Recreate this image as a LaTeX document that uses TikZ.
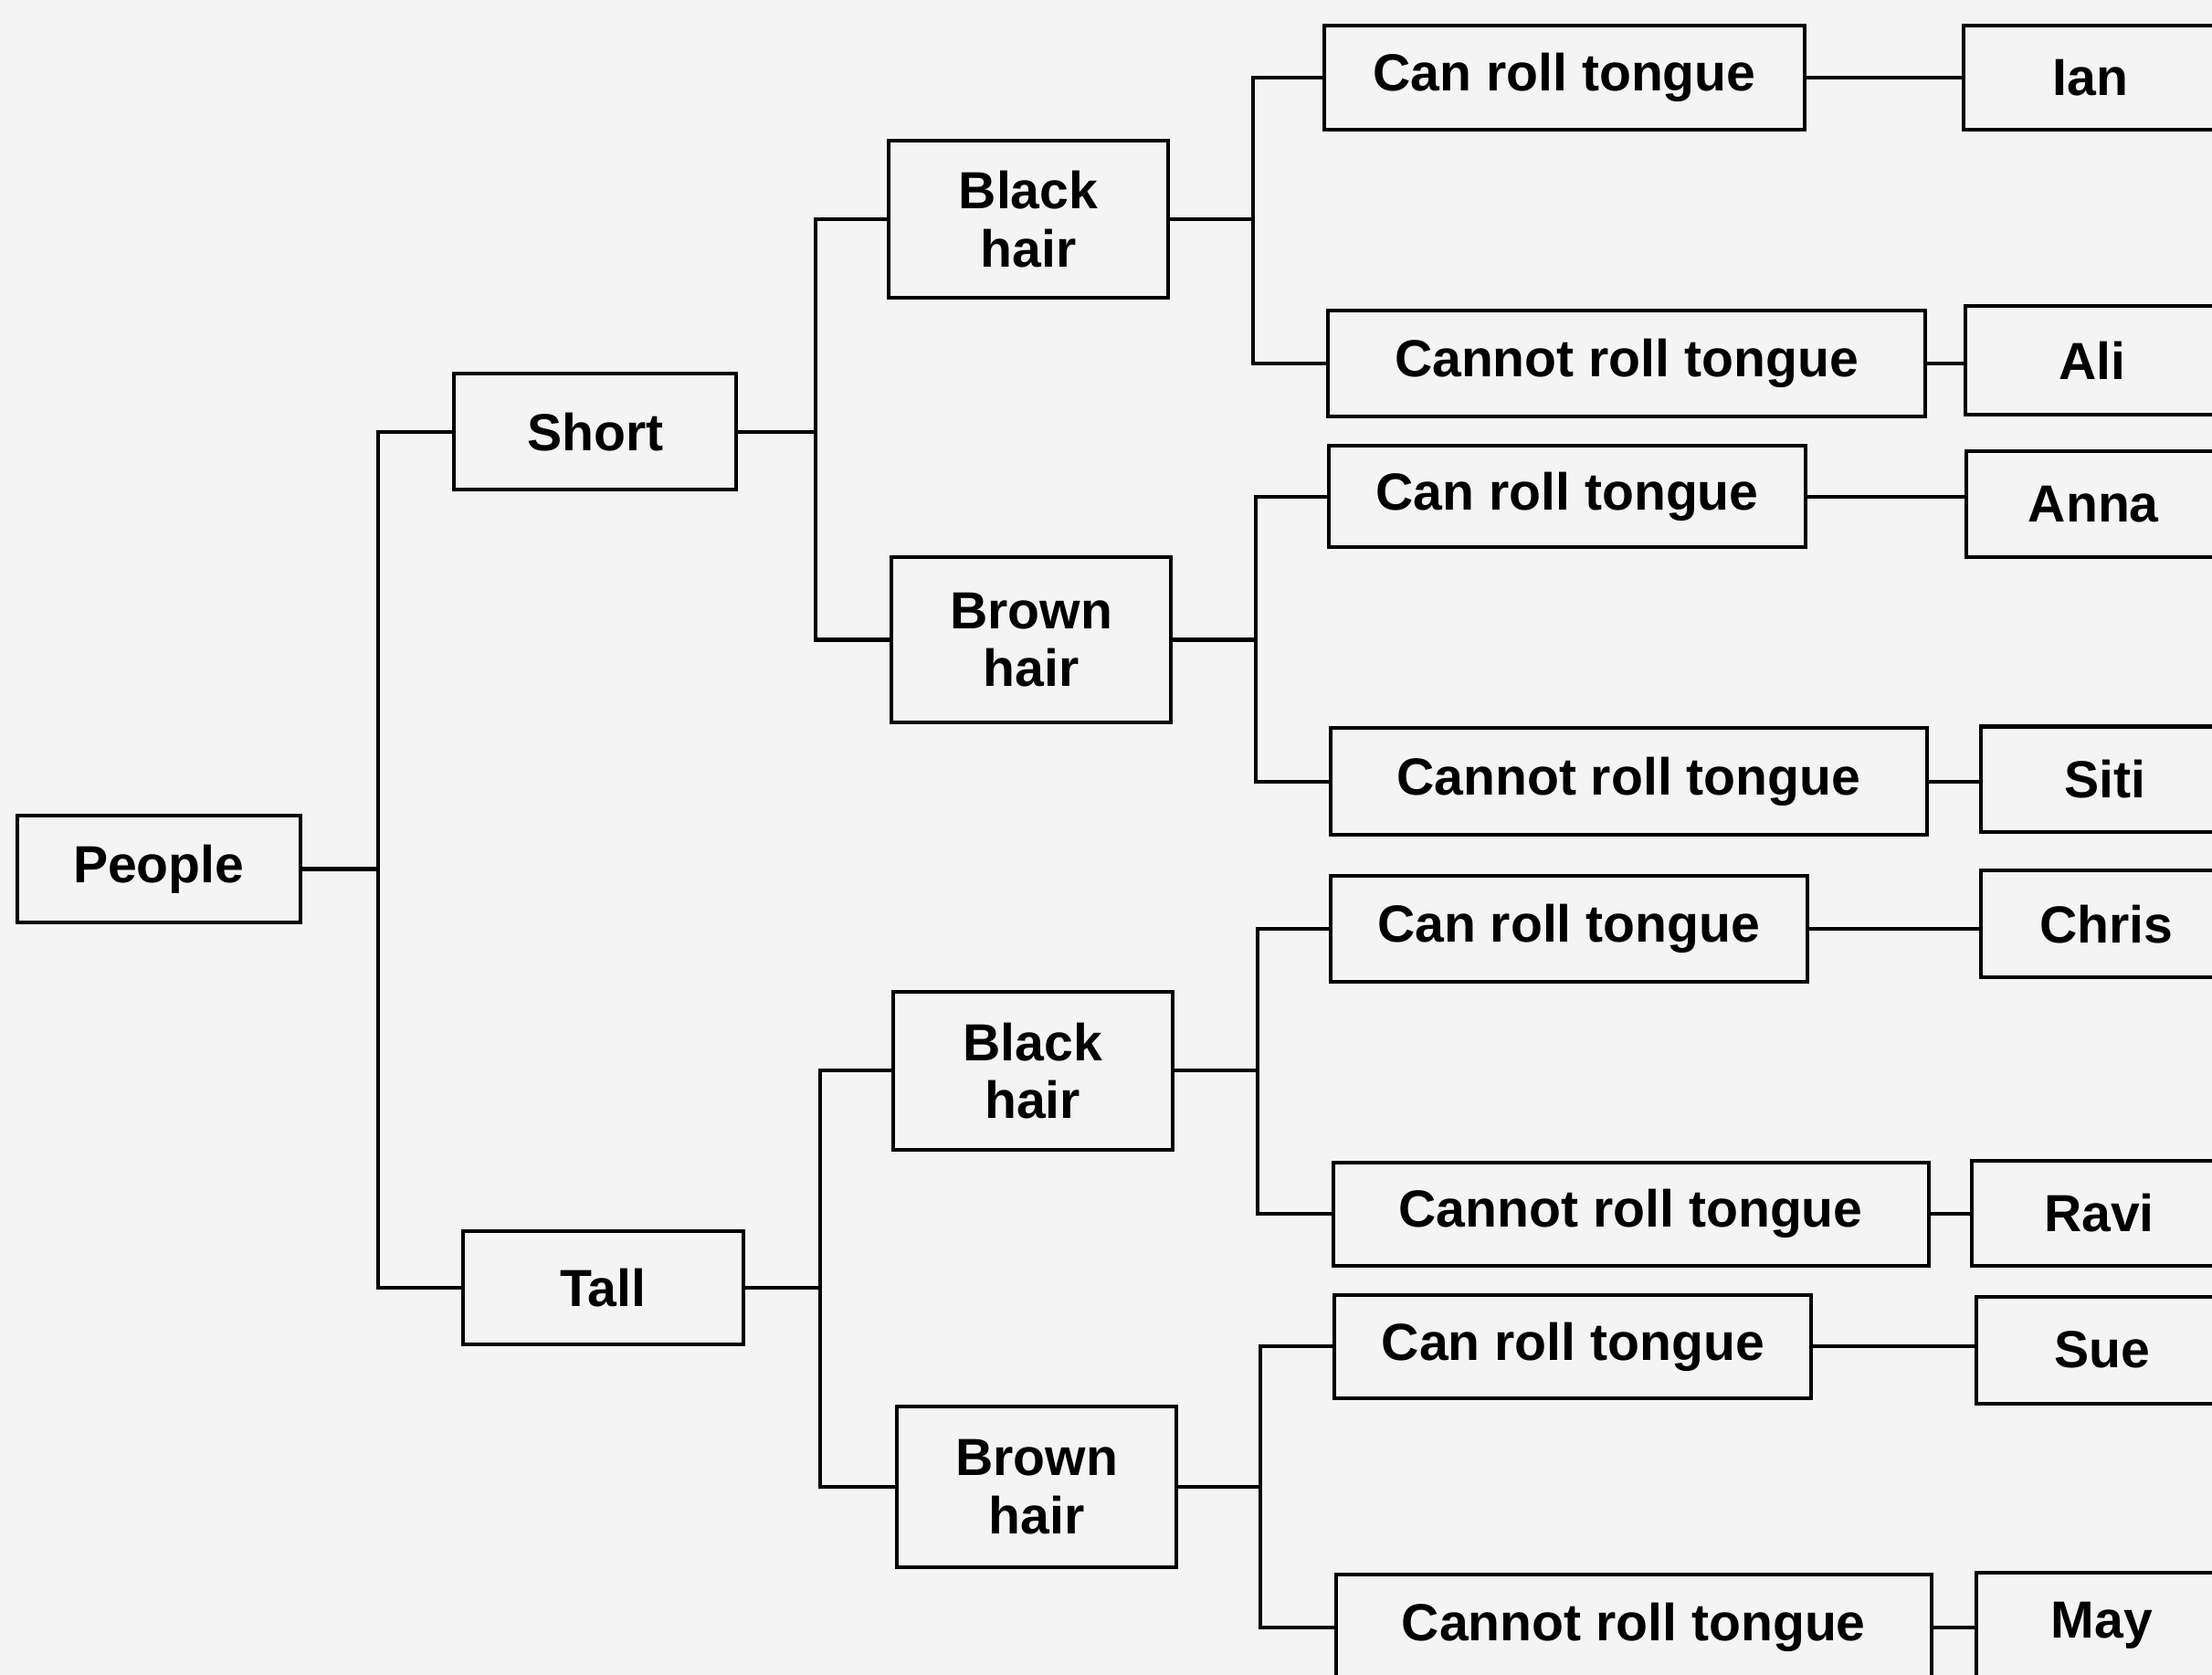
\documentclass[tikz,border=0pt]{standalone}
\usepackage{fontspec}
\setmainfont{Liberation Sans}
\definecolor{bg}{HTML}{F4F4F4}
\tikzset{
  box/.style={draw=black, line width=2.6pt, rectangle, inner sep=0pt, align=center,
    font=\fontsize{37}{41}\selectfont\bfseries},
  link/.style={draw=black, line width=2.6pt}
}
\begin{document}
\begin{tikzpicture}[x=1pt,y=-1pt]
\fill[bg] (0,0) rectangle (1568,1187.3);
\clip (0,0) rectangle (1568,1187.3);
% level 0/1
\node[box, minimum width=201pt, minimum height=76pt] (people) at (112.5,616) {People};
\node[box, minimum width=200pt, minimum height=82pt] (short) at (422,306) {Short};
\node[box, minimum width=199pt, minimum height=80pt] (tall) at (427.5,913) {Tall};
% level 2
\node[box, minimum width=198pt, minimum height=111pt] (bh1) at (729,155.5) {Black\\hair};
\node[box, minimum width=198pt, minimum height=117pt] (br1) at (731,453.5) {Brown\\hair};
\node[box, minimum width=198pt, minimum height=112pt] (bh2) at (732,759) {Black\\hair};
\node[box, minimum width=198pt, minimum height=114pt] (br2) at (735,1054) {Brown\\hair};
% level 3
\node[box, minimum width=340pt, minimum height=74pt] (c1) at (1109,55) {Can roll tongue};
\node[box, minimum width=424pt, minimum height=75pt] (n1) at (1153,257.5) {Cannot roll tongue};
\node[box, minimum width=338pt, minimum height=72pt] (c2) at (1111,352) {Can roll tongue};
\node[box, minimum width=423pt, minimum height=76pt] (n2) at (1154.5,554) {Cannot roll tongue};
\node[box, minimum width=338pt, minimum height=75pt] (c3) at (1112,658.5) {Can roll tongue};
\node[box, minimum width=422pt, minimum height=73pt] (n3) at (1156,860.5) {Cannot roll tongue};
\node[box, minimum width=338pt, minimum height=73pt] (c4) at (1115,954.5) {Can roll tongue};
\node[box, minimum width=422pt, minimum height=75pt] (n4) at (1158,1153.5) {Cannot roll tongue};
% names
\node[box, minimum width=180pt, minimum height=74pt] (ian) at (1482,55) {Ian};
\node[box, minimum width=180pt, minimum height=77pt] (ali) at (1483,255.5) {Ali};
\node[box, minimum width=180pt, minimum height=75pt] (anna) at (1484,357.5) {Anna};
\node[box, minimum width=176pt, minimum height=75pt] (siti) at (1492,552.5) {Siti};
\node[box, minimum width=178pt, minimum height=76pt] (chris) at (1493,655) {Chris};
\node[box, minimum width=180pt, minimum height=74pt] (ravi) at (1488,860) {Ravi};
\node[box, minimum width=178pt, minimum height=76pt] (sue) at (1490,957) {Sue};
\node[box, minimum width=178pt, minimum height=75pt] (may) at (1490,1152.5) {May};
% connectors
\draw[link] (people.east) -- +(54,0) |- (short.west);
\draw[link] (people.east) -- +(54,0) |- (tall.west);
\draw[link] (short.east) -- +(55,0) |- (bh1.west);
\draw[link] (short.east) -- +(55,0) |- (br1.west);
\draw[link] (tall.east) -- +(53,0) |- (bh2.west);
\draw[link] (tall.east) -- +(53,0) |- (br2.west);
\draw[link] (bh1.east) -- +(59,0) |- (c1.west);
\draw[link] (bh1.east) -- +(59,0) |- (n1.west);
\draw[link] (br1.east) -- +(59,0) |- (c2.west);
\draw[link] (br1.east) -- +(59,0) |- (n2.west);
\draw[link] (bh2.east) -- +(59,0) |- (c3.west);
\draw[link] (bh2.east) -- +(59,0) |- (n3.west);
\draw[link] (br2.east) -- +(58,0) |- (c4.west);
\draw[link] (br2.east) -- +(58,0) |- (n4.west);
\draw[link] (c1.east) -- (ian.west);
\draw[link] (n1.east) -- (ali.west |- n1.east);
\draw[link] (c2.east) -- (anna.west |- c2.east);
\draw[link] (n2.east) -- (siti.west |- n2.east);
\draw[link] (c3.east) -- (chris.west |- c3.east);
\draw[link] (n3.east) -- (ravi.west |- n3.east);
\draw[link] (c4.east) -- (sue.west |- c4.east);
\draw[link] (n4.east) -- (may.west |- n4.east);
\end{tikzpicture}
\end{document}
